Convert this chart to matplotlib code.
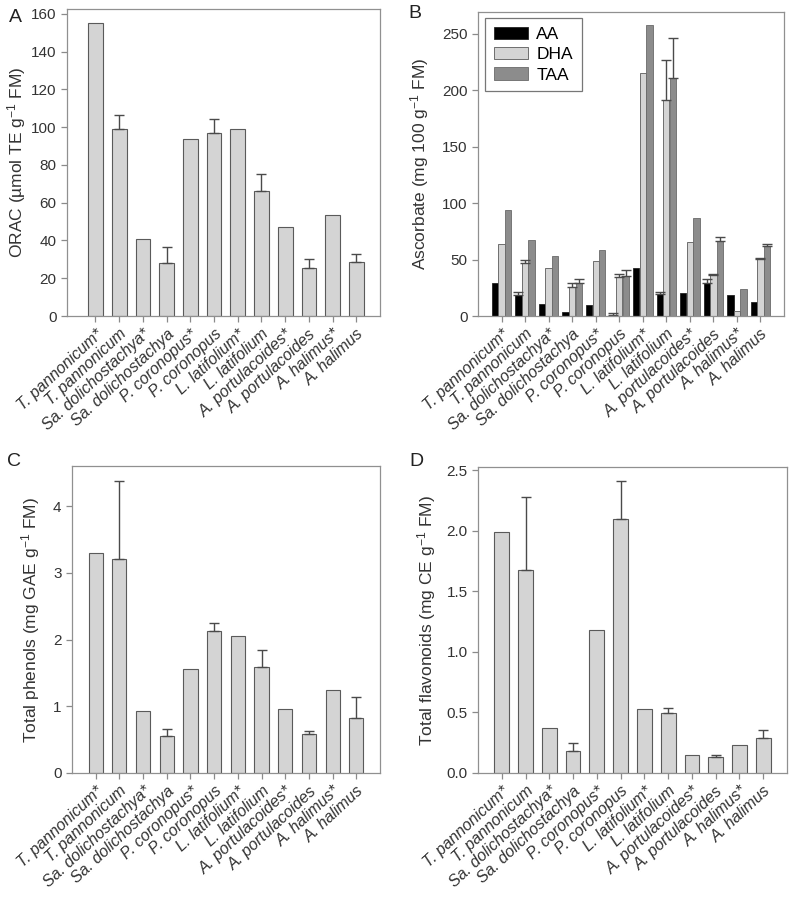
import numpy as np
import matplotlib
matplotlib.use("Agg")
import matplotlib.pyplot as plt

plt.rcParams['font.family'] = ['Liberation Sans', 'DejaVu Sans']
plt.rcParams['mathtext.fontset'] = 'custom'
plt.rcParams['mathtext.rm'] = 'Liberation Sans'
plt.rcParams['mathtext.it'] = 'Liberation Sans:italic'

species = ["T. pannonicum*", "T. pannonicum", "Sa. dolichostachya*", "Sa. dolichostachya",
           "P. coronopus*", "P. coronopus", "L. latifolium*", "L. latifolium",
           "A. portulacoides*", "A. portulacoides", "A. halimus*", "A. halimus"]

# A: ORAC (bar top, error bar top; nan = no error bar)
orac = [155, 99, 40.5, 28, 93.5, 97, 99, 66, 47, 25.5, 53.5, 28.5]
orac_top = [np.nan, 106.5, np.nan, 36.5, np.nan, 104.5, np.nan, 75, np.nan, 30, np.nan, 33]

# B: ascorbate
aa = [29, 19, 10.6, 3.3, 9.5, 1.2, 42.3, 19.5, 20.7, 29.5, 18.3, 12.1]
aa_top = [np.nan, 21, np.nan, np.nan, np.nan, 3, np.nan, 21, np.nan, 32.5, np.nan, np.nan]
dha = [64, 46.7, 42.3, 26, 48.8, 34.6, 215, 191.5, 65.6, 36.6, 4.7, 50.2]
dha_top = [np.nan, 49.6, np.nan, 29, np.nan, 37, np.nan, 227, np.nan, 37.2, np.nan, 51.7]
taa = [93.7, 67.4, 53, 29.5, 58.8, 35.5, 257.7, 211, 86.9, 66.5, 23.6, 62]
taa_top = [np.nan, np.nan, np.nan, 32.5, np.nan, 40.5, np.nan, 246.5, np.nan, 70, np.nan, 63.5]

# C: total phenols
phen = [3.30, 3.20, 0.934, 0.55, 1.563, 2.127, 2.05, 1.593, 0.959, 0.59, 1.238, 0.829]
phen_top = [np.nan, 4.37, np.nan, 0.654, np.nan, 2.252, np.nan, 1.838, np.nan, 0.634, np.nan, 1.144]

# D: total flavonoids
flav = [1.99, 1.673, 0.371, 0.181, 1.179, 2.093, 0.527, 0.495, 0.151, 0.132, 0.231, 0.288]
flav_top = [np.nan, 2.275, np.nan, 0.247, np.nan, 2.409, np.nan, 0.538, np.nan, 0.148, np.nan, 0.357]

W, H = 789, 900
fig = plt.figure(figsize=(W / 100, H / 100), dpi=100)


def make_ax(left, right, top, bottom):
    return fig.add_axes([left / W, 1 - bottom / H, (right - left) / W, (bottom - top) / H])


EDGE = '#5a5a5a'
LIGHT = '#d4d4d4'
DARK = '#8c8c8c'
ERR = '#4a4a4a'


def style(ax, ylim, yticks, ylabel, xlim, pad=4):
    ax.set_ylim(*ylim)
    ax.set_xlim(*xlim)
    ax.set_yticks(yticks)
    for s in ax.spines.values():
        s.set_color('#909090')
        s.set_linewidth(0.9)
    ax.tick_params(axis='both', direction='out', color='#8a8a8a', labelcolor='#333333',
                   labelsize=11, length=4, width=0.9)
    ax.tick_params(top=False, right=False)
    ax.set_xticks(np.arange(len(species)))
    ax.set_xticklabels(species, rotation=43, ha='right', rotation_mode='anchor',
                       style='italic', fontsize=11.5, color='#333333')
    ax.set_ylabel(ylabel, fontsize=12.5, color='#333333', labelpad=pad)


def errs(ax, x, vals, tops):
    vals = np.asarray(vals, float)
    tops = np.asarray(tops, float)
    m = ~np.isnan(tops)
    up = tops[m] - vals[m]
    ax.errorbar(np.asarray(x)[m], vals[m], yerr=[np.zeros_like(up), up], fmt='none',
                ecolor=ERR, elinewidth=1, capsize=3.5, capthick=1)


x = np.arange(len(species))

# A
axA = make_ax(67, 380, 9, 316)
axA.bar(x, orac, 0.62, color=LIGHT, edgecolor=EDGE, linewidth=0.8)
errs(axA, x, orac, orac_top)
style(axA, (0, 162.5), np.arange(0, 161, 20), r'ORAC (µmol TE g$^{-1}$ FM)', (-1.2, 12), pad=2)

# B
axB = make_ax(478, 784, 12, 316)
bw = 0.27
off = 0.28
axB.bar(x - off, aa, bw, color='black', edgecolor='#222222', linewidth=0.6, label='AA')
axB.bar(x, dha, bw, color=LIGHT, edgecolor=EDGE, linewidth=0.6, label='DHA')
axB.bar(x + off, taa, bw, color=DARK, edgecolor='#6a6a6a', linewidth=0.6, label='TAA')
errs(axB, x - off, aa, aa_top)
errs(axB, x, dha, dha_top)
errs(axB, x + off, taa, taa_top)
style(axB, (0, 269.5), np.arange(0, 251, 50), r'Ascorbate (mg 100 g$^{-1}$ FM)', (-1, 12), pad=8)
leg = axB.legend(loc='upper left', bbox_to_anchor=(0.023, 0.98), borderaxespad=0,
                 fontsize=12.5, frameon=True, fancybox=False, edgecolor='#555555',
                 handlelength=2.0, handleheight=0.7, labelspacing=0.3, borderpad=0.5,
                 handletextpad=0.45)
leg.get_frame().set_linewidth(0.9)

# C
axC = make_ax(72, 380, 466, 773)
axC.bar(x, phen, 0.6, color=LIGHT, edgecolor=EDGE, linewidth=0.8)
errs(axC, x, phen, phen_top)
style(axC, (0, 4.6), [0, 1, 2, 3, 4], r'Total phenols (mg GAE g$^{-1}$ FM)', (-1, 12), pad=8)

# D
axD = make_ax(478, 787, 467, 773)
axD.bar(x, flav, 0.62, color=LIGHT, edgecolor=EDGE, linewidth=0.8)
errs(axD, x, flav, flav_top)
style(axD, (0, 2.525), np.arange(0, 2.51, 0.5), r'Total flavonoids (mg CE g$^{-1}$ FM)', (-1, 12), pad=6)
axD.set_yticklabels([f'{v:.1f}' for v in np.arange(0, 2.51, 0.5)])

for lab, px, py in [('A', 15, 18), ('B', 415, 14), ('C', 14, 462), ('D', 416, 462)]:
    fig.text(px / W, 1 - py / H, lab, fontsize=14, color='#222222', ha='center', va='center')

fig.savefig('out.png', dpi=100, facecolor='white')
